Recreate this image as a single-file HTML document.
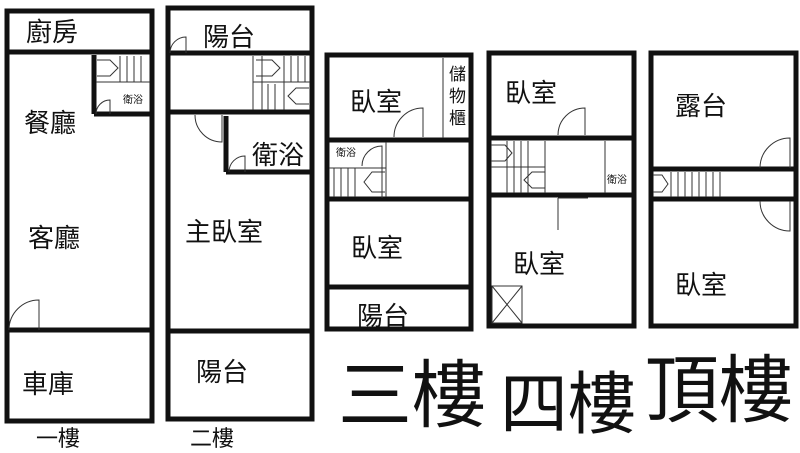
<!DOCTYPE html>
<html><head><meta charset="utf-8"><style>
html,body{margin:0;padding:0;background:#fff;}
svg{display:block}
text{font-family:"Liberation Sans","Noto Sans CJK TC",sans-serif;fill:#111}
</style></head><body>
<svg width="800" height="453" viewBox="0 0 800 453" xmlns="http://www.w3.org/2000/svg">
<g fill="none" stroke="#111" stroke-width="5">
<rect x="7" y="11" width="145" height="410"/>
<line x1="7" y1="52" x2="152" y2="52"/>
<line x1="94" y1="55" x2="94" y2="114"/>
<line x1="94" y1="114" x2="152" y2="114"/>
<line x1="7" y1="330" x2="152" y2="330"/>
<rect x="168" y="8" width="144" height="411"/>
<line x1="168" y1="53" x2="312" y2="53"/>
<line x1="168" y1="112" x2="312" y2="112"/>
<line x1="226" y1="116" x2="226" y2="172"/>
<line x1="226" y1="172" x2="312" y2="172"/>
<line x1="168" y1="331" x2="312" y2="331"/>
<rect x="327" y="55" width="144" height="274"/>
<line x1="327" y1="140" x2="471" y2="140"/>
<line x1="327" y1="199" x2="471" y2="199"/>
<line x1="327" y1="287" x2="471" y2="287"/>
<rect x="489" y="53" width="145" height="273"/>
<line x1="489" y1="138" x2="634" y2="138"/>
<line x1="489" y1="195" x2="634" y2="195"/>
<rect x="651" y="53" width="145" height="273"/>
<line x1="651" y1="169" x2="796" y2="169"/>
<line x1="651" y1="199" x2="796" y2="199"/>
</g>
<g fill="none" stroke="#333" stroke-width="1">
<g><line x1="120" y1="56" x2="120" y2="82"/><line x1="127" y1="56" x2="127" y2="82"/><line x1="134" y1="56" x2="134" y2="82"/><line x1="141" y1="56" x2="141" y2="82"/><line x1="96" y1="82" x2="150" y2="82"/>
<path d="M97 60 H110 L118 68 L110 76 H97"/></g>
<path d="M96 114 A14 14 0 0 1 110 100 V114"/>
<path d="M9 330 A30 30 0 0 1 39 300 V330"/>
<line x1="253" y1="56" x2="253" y2="110"/>
<line x1="262" y1="56" x2="262" y2="110"/><line x1="284" y1="56" x2="284" y2="110"/><line x1="291" y1="56" x2="291" y2="82"/><line x1="298" y1="56" x2="298" y2="82"/><line x1="305" y1="56" x2="305" y2="82"/>
<line x1="253" y1="82" x2="310" y2="82"/><line x1="268" y1="84" x2="268" y2="110"/><line x1="275" y1="84" x2="275" y2="110"/>
<path d="M256 60 H272 L280 68 L272 76 H256"/>
<path d="M309 88 H296 L288 96 L296 104 H309"/>
<path d="M170 53 A16 16 0 0 1 186 37 V53"/>
<path d="M195 115 A27 27 0 0 0 222 142 V115"/>
<path d="M229 172 A16 16 0 0 1 245 156 V172"/>
<line x1="443" y1="58" x2="443" y2="138"/>
<path d="M394 137 A29 29 0 0 1 423 108 V137"/>
<path d="M362 166 A20 20 0 0 1 382 146 V198"/>
<line x1="386" y1="142" x2="386" y2="197"/>
<line x1="334" y1="168" x2="334" y2="197"/><line x1="341" y1="168" x2="341" y2="197"/><line x1="348" y1="168" x2="348" y2="197"/><line x1="355" y1="168" x2="355" y2="197"/><line x1="329" y1="168" x2="386" y2="168"/>
<path d="M385 172 H372 L364 182 L372 192 H385"/>
<path d="M558 135 A27 27 0 0 1 585 108 V135"/>
<line x1="545" y1="141" x2="545" y2="193"/><line x1="507" y1="141" x2="507" y2="193"/><line x1="514" y1="141" x2="514" y2="193"/><line x1="521" y1="141" x2="521" y2="193"/><line x1="528" y1="141" x2="528" y2="193"/>
<line x1="491" y1="167" x2="545" y2="167"/>
<path d="M491 145 H505 L512 153 L505 161 H491"/>
<path d="M545 172 H532 L524 180 L532 188 H545"/>
<line x1="605" y1="141" x2="605" y2="193"/>
<line x1="558" y1="198" x2="558" y2="230"/><line x1="558" y1="198" x2="588" y2="198"/>
<rect x="492" y="286" width="30" height="37"/><line x1="492" y1="286" x2="522" y2="323"/><line x1="522" y1="286" x2="492" y2="323"/>
<path d="M760 168 A30 30 0 0 1 790 138 V168"/>
<path d="M760 201 A30 30 0 0 0 790 231 V201"/>
<line x1="671" y1="172" x2="671" y2="197"/><line x1="678" y1="172" x2="678" y2="197"/><line x1="685" y1="172" x2="685" y2="197"/><line x1="692" y1="172" x2="692" y2="197"/><line x1="699" y1="172" x2="699" y2="197"/><line x1="706" y1="172" x2="706" y2="197"/><line x1="713" y1="172" x2="713" y2="197"/><line x1="720" y1="172" x2="720" y2="197"/>
<path d="M653 175 H662 L668 184 L662 192 H653"/>
</g>
<g font-size="26">
<text x="26" y="41">廚房</text>
<text x="24" y="132">餐廳</text>
<text x="28" y="247">客廳</text>
<text x="22" y="393">車庫</text>
<text x="203" y="46">陽台</text>
<text x="252" y="164">衛浴</text>
<text x="185" y="241">主臥室</text>
<text x="196" y="381">陽台</text>
<text x="350" y="111">臥室</text>
<text x="351" y="257">臥室</text>
<text x="357" y="325">陽台</text>
<text x="505" y="102">臥室</text>
<text x="513" y="273">臥室</text>
<text x="675" y="115">露台</text>
<text x="675" y="294">臥室</text>
<text x="36" y="446" font-size="22">一樓</text>
<text x="190" y="446" font-size="22">二樓</text>
</g>
<g font-size="17">
<text x="449" y="80">儲</text><text x="449" y="102">物</text><text x="449" y="124">櫃</text>
</g>
<g font-size="10">
<text x="123" y="103">衛浴</text>
<text x="336" y="156">衛浴</text>
<text x="607" y="183">衛浴</text>
</g>
<g font-size="74">
<text x="338" y="421">三樓</text>
<text x="500" y="428" font-size="68">四樓</text>
<text x="645" y="416">頂樓</text>
</g>
</svg>
</body></html>
